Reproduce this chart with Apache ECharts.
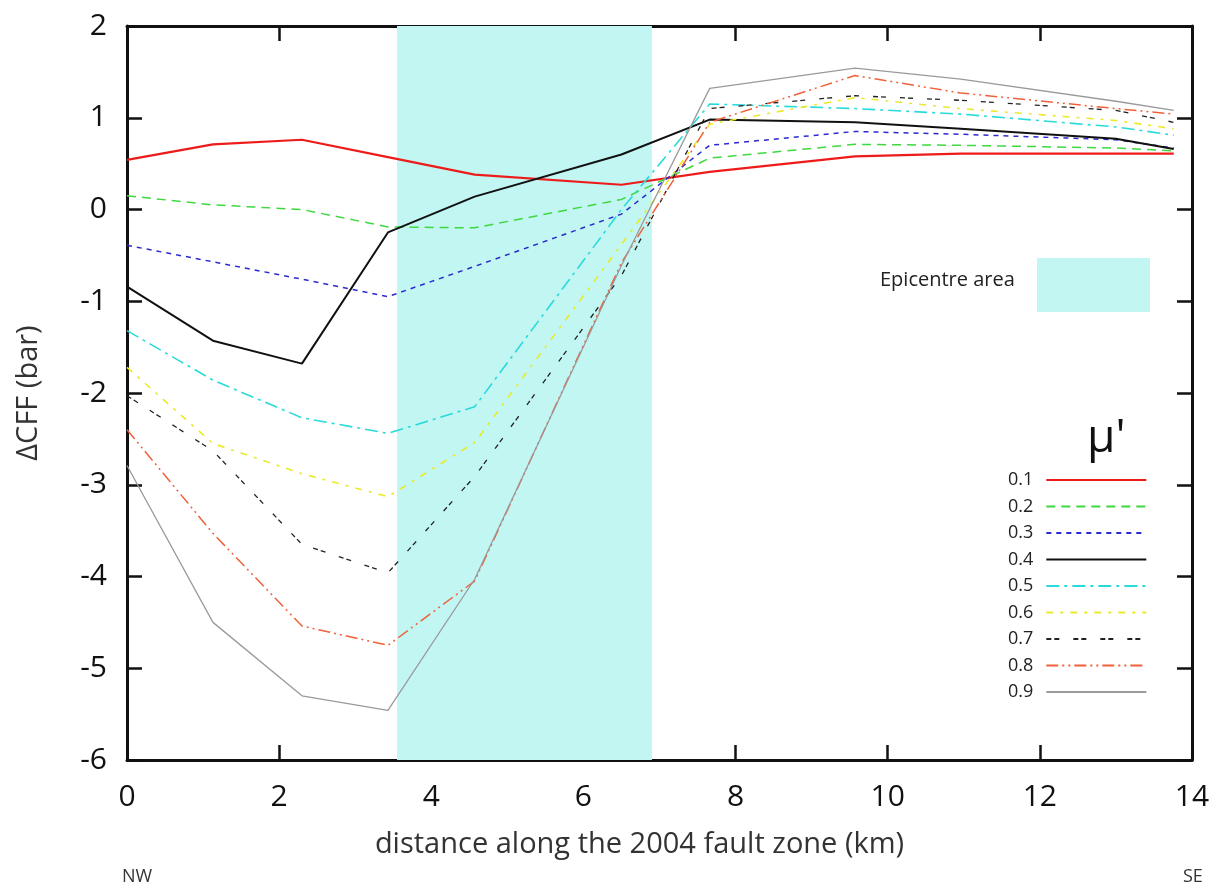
<!DOCTYPE html>
<html>
<head>
<meta charset="utf-8">
<script src="https://cdn.jsdelivr.net/npm/echarts@6/dist/echarts.min.js"></script>
<style>
html,body{margin:0;padding:0;background:#fff;}
#chart{width:1220px;height:888px;}
</style>
</head>
<body>
<div id="chart"></div>
<script>
// distance along fault (km)
const distances = [0, 1.13, 2.30, 3.43, 4.57, 6.50, 7.66, 9.57, 10.96, 13.0, 13.76];
const mu01 = [0.54, 0.71, 0.76, 0.57, 0.38, 0.27, 0.41, 0.58, 0.61, 0.61, 0.61];
const mu02 = [0.15, 0.05, 0.00, -0.19, -0.20, 0.11, 0.56, 0.71, 0.70, 0.67, 0.64];
const mu03 = [-0.39, -0.57, -0.76, -0.95, -0.62, -0.05, 0.70, 0.85, 0.82, 0.76, 0.67];
const mu04 = [-0.84, -1.43, -1.68, -0.25, 0.14, 0.60, 0.98, 0.95, 0.88, 0.77, 0.66];
const mu05 = [-1.32, -1.86, -2.27, -2.44, -2.15, 0.00, 1.15, 1.10, 1.04, 0.90, 0.81];
const mu06 = [-1.72, -2.55, -2.88, -3.13, -2.54, -0.38, 0.93, 1.22, 1.10, 0.97, 0.88];
const mu07 = [-2.03, -2.63, -3.65, -3.96, -2.91, -0.72, 1.10, 1.24, 1.19, 1.08, 0.95];
const mu08 = [-2.40, -3.53, -4.54, -4.75, -4.05, -0.58, 0.95, 1.46, 1.27, 1.10, 1.04];
const mu09 = [-2.79, -4.50, -5.30, -5.46, -4.03, -0.61, 1.32, 1.54, 1.42, 1.18, 1.08];
const seriesNames = ['0.1','0.2','0.3','0.4','0.5','0.6','0.7','0.8','0.9'];
const epicentreBand = [3.55, 6.9];
const xTicks = [0, 2, 4, 6, 8, 10, 12, 14];
const yTicks = [-6, -5, -4, -3, -2, -1, 0, 1, 2];

const values = [mu01, mu02, mu03, mu04, mu05, mu06, mu07, mu08, mu09];
const styles = [
  {color:'#ee1b1b', width:2.2, type:'solid'},
  {color:'#3fd83f', width:1.5, type:[9,6]},
  {color:'#2a2ad0', width:1.5, type:[5,5]},
  {color:'#111111', width:2.0, type:'solid'},
  {color:'#2adada', width:1.6, type:[13,5,3,5]},
  {color:'#eaea2a', width:1.6, type:[7,7,3,7]},
  {color:'#222222', width:1.3, type:[5,3,5,14]},
  {color:'#f0603a', width:1.5, type:[12,4,2,4,2,4]},
  {color:'#9a9a9a', width:1.3, type:'solid'}
];
const bandColor = '#c1f6f3';
const FONT = 'Open Sans';

const series = [{
  name: 'band', type: 'line', data: [], silent: true,
  markArea: {silent: true, itemStyle: {color: bandColor, opacity: 1},
    data: [[{xAxis: epicentreBand[0]}, {xAxis: epicentreBand[1]}]]}
}];
values.forEach((v, i) => {
  series.push({
    name: seriesNames[i], type: 'line', symbol: 'none', animation: false,
    color: styles[i].color,
    lineStyle: {color: styles[i].color, width: styles[i].width, type: styles[i].type},
    data: distances.map((d, k) => [d, v[k]])
  });
});

const axisLineStyle = {color: '#111', width: 3};
const tickStyle = {inside: true, length: 15, lineStyle: {color: '#111', width: 2.5}};

const chart = echarts.init(document.getElementById('chart'));
chart.setOption({
  animation: false,
  backgroundColor: '#fff',
  grid: {left: 127, right: 28, top: 26, bottom: 128},
  xAxis: [{
    type: 'value', min: xTicks[0], max: xTicks[xTicks.length-1], interval: 2,
    axisLine: {onZero: false, lineStyle: axisLineStyle},
    axisTick: tickStyle,
    axisLabel: {fontSize: 30, color: '#111', margin: 22, fontFamily: FONT},
    splitLine: {show: false},
    name: 'distance along the 2004 fault zone (km)', nameLocation: 'middle', nameGap: 70,
    nameTextStyle: {fontSize: 29, color: '#333', fontFamily: FONT, padding: [0, 40, 0, 0]}
  }, {
    type: 'value', position: 'top', min: xTicks[0], max: xTicks[xTicks.length-1], interval: 2,
    axisLine: {onZero: false, lineStyle: axisLineStyle},
    axisTick: tickStyle,
    axisLabel: {show: false}, splitLine: {show: false}
  }],
  yAxis: [{
    type: 'value', min: yTicks[0], max: yTicks[yTicks.length-1], interval: 1,
    axisLine: {show: true, onZero: false, lineStyle: axisLineStyle},
    axisTick: Object.assign({show: true}, tickStyle),
    axisLabel: {fontSize: 30, color: '#111', margin: 20, fontFamily: FONT},
    splitLine: {show: false},
    name: 'ΔCFF (bar)', nameLocation: 'middle', nameRotate: 90, nameGap: 84,
    nameTextStyle: {fontSize: 29, color: '#333', fontFamily: FONT}
  }, {
    type: 'value', position: 'right', min: yTicks[0], max: yTicks[yTicks.length-1], interval: 1,
    axisLine: {show: true, onZero: false, lineStyle: axisLineStyle},
    axisTick: Object.assign({show: true}, tickStyle),
    axisLabel: {show: false}, splitLine: {show: false}
  }],
  legend: {
    data: seriesNames, orient: 'vertical', left: 1003, top: 466,
    align: 'right', itemWidth: 100, itemHeight: 14, itemGap: 8.5,
    itemStyle: {opacity: 0},
    textStyle: {fontSize: 18, color: '#222', lineHeight: 18, fontFamily: FONT, padding: [0, 8, 0, 0]},
    selectedMode: false
  },
  graphic: [
    {type: 'text', left: 1087, top: 416, style: {text: 'μ\'', fontSize: 46, fill: '#111', fontFamily: FONT}},
    {type: 'text', left: 880, top: 270, style: {text: 'Epicentre area', fontSize: 20, fill: '#222', fontFamily: FONT}},
    {type: 'rect', left: 1037, top: 258, shape: {width: 113, height: 54}, style: {fill: bandColor}},
    {type: 'text', left: 122, top: 868, style: {text: 'NW', fontSize: 18, fill: '#333', fontFamily: FONT}},
    {type: 'text', left: 1183, top: 868, style: {text: 'SE', fontSize: 18, fill: '#333', fontFamily: FONT}}
  ],
  series: series
});
</script>
</body>
</html>
